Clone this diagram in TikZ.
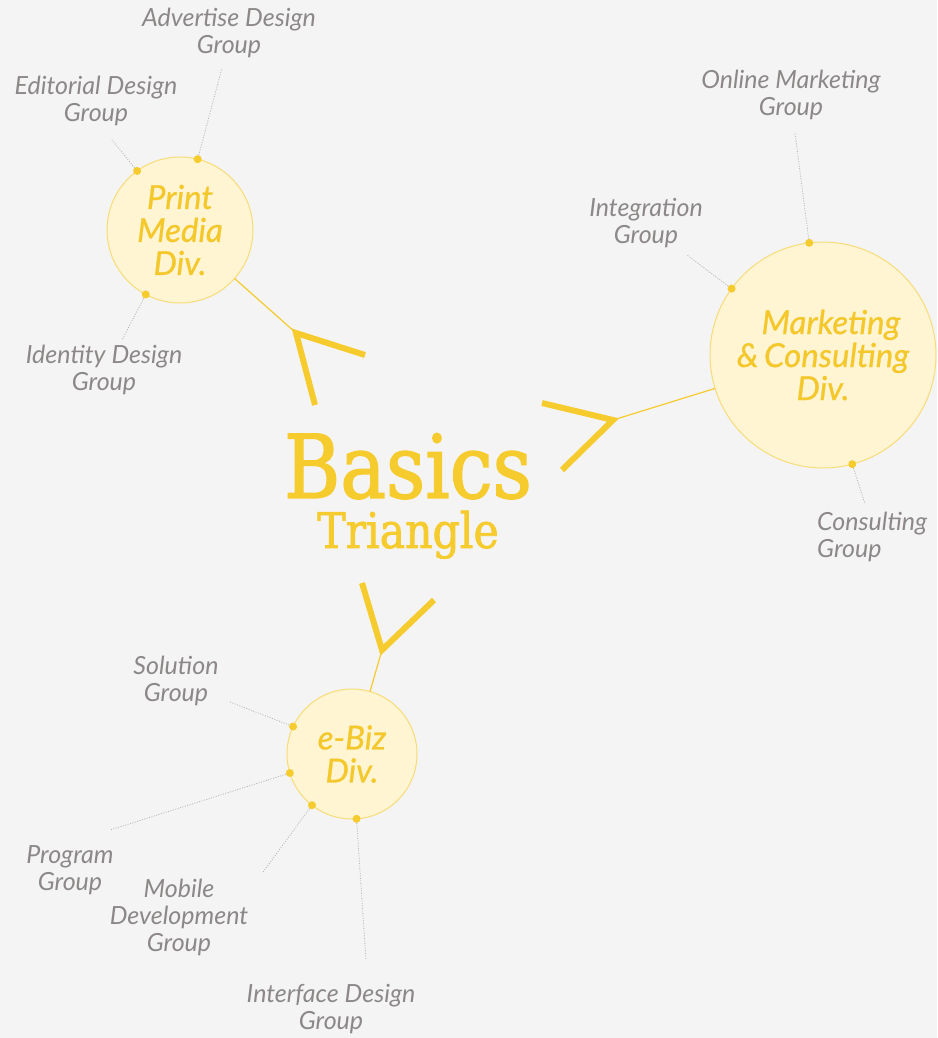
\documentclass[tikz,border=0pt]{standalone}
\usepackage{fontspec}
\setmainfont{DejaVu Serif}[FakeStretch=0.87, FakeBold=1.6]
\newfontfamily\grpfont{Lato}
\newfontfamily\divfont{Lato}[FakeBold=0.7]
\usetikzlibrary{positioning}
\definecolor{bg}{HTML}{F4F4F4}
\definecolor{gold}{HTML}{F6CB2E}
\definecolor{divtext}{HTML}{F4C72A}
\definecolor{pale}{HTML}{FFF5D2}
\definecolor{rim}{HTML}{F7DC79}
\definecolor{greytext}{HTML}{8C8888}
\definecolor{leader}{HTML}{B5B5B5}
\tikzset{
  div/.style={circle, draw=rim, fill=pale, line width=1pt, outer sep=0pt, inner sep=0pt, align=center, text=divtext, font=\divfont\itshape\fontsize{33}{33}\selectfont},
  grp/.style={align=center, text=greytext, inner sep=0pt, font=\grpfont\itshape\fontsize{25}{27}\selectfont},
  dot/.style={circle, fill=gold, minimum size=8pt, inner sep=0pt},
  link/.style={gold, line width=1.2pt},
  leaderline/.style={leader, line width=0.8pt, dash pattern=on 1pt off 1.5pt},
  chev/.style={gold, line width=6pt, line join=miter},
}

\begin{document}
\begin{tikzpicture}[x=1pt, y=-1pt]
    \fill[bg] (0,0) rectangle (937,1038);
    \useasboundingbox (0,0) rectangle (937,1038);

    % title
    \node[text=gold, inner sep=0pt, align=center, anchor=north, font=\fontsize{88}{50}\selectfont] (title) at (408,433)
      {Basics\\{\fontsize{49}{50}\selectfont Triangle}};

    % divisions
    \node[div, minimum size=146pt] (pm) at (180,230) {Print\\Media\\Div.};
    \node[div, minimum size=226pt] (mc) at (823,355) {\hspace*{16pt}Marketing\\\&\,Consulting\\Div.};
    \node[div, minimum size=130pt] (eb) at (352,754) {e-Biz\\Div.};

    % chevrons
    \coordinate (v1) at (296,333);
    \coordinate (v1a) at (365,355);
    \coordinate (v1b) at (315,405);
    \coordinate (v2) at (613,420);
    \coordinate (v2a) at (542,403);
    \coordinate (v2b) at (562,470);
    \coordinate (v3) at (382,650);
    \coordinate (v3a) at (362,583);
    \coordinate (v3b) at (434,600);
    \draw[chev] (v1a) -- (v1) -- (v1b);
    \draw[chev] (v2a) -- (v2) -- (v2b);
    \draw[chev] (v3a) -- (v3) -- (v3b);
    \draw[link] (pm) -- (v1);
    \draw[link] (mc) -- (v2);
    \draw[link] (eb) -- (v3);

    % print media groups
    \node[dot] (d1) at (pm.126) {};
    \node[dot] (d2) at (pm.76) {};
    \node[dot] (d3) at (pm.242) {};
    \coordinate (e1) at (112,140);
    \coordinate (e2) at (222,68);
    \coordinate (e3) at (122,340);
    \draw[leaderline] (d1) -- (e1);
    \draw[leaderline] (d2) -- (e2);
    \draw[leaderline] (d3) -- (e3);
    \node[grp] (g1) at (96,101) {Editorial Design\\Group};
    \node[grp] (g2) at (229,33) {Advertise Design\\Group};
    \node[grp] (g3) at (104,370) {Identity Design\\Group};

    % marketing groups
    \node[dot] (d4) at (mc.97) {};
    \node[dot] (d5) at (mc.144) {};
    \node[dot] (d6) at (mc.285) {};
    \coordinate (e4) at (795,133);
    \coordinate (e5) at (687,255);
    \coordinate (e6) at (865,504);
    \draw[leaderline] (d4) -- (e4);
    \draw[leaderline] (d5) -- (e5);
    \draw[leaderline] (d6) -- (e6);
    \node[grp] (g4) at (791,95) {Online Marketing\\Group};
    \node[grp] (g5) at (646,223) {Integration\\Group};
    \node[grp, align=left, anchor=west] (g6) at (817,537) {Consulting\\Group};

    % e-biz groups
    \node[dot] (d7) at (eb.155) {};
    \node[dot] (d8) at (eb.197) {};
    \node[dot] (d9) at (eb.232) {};
    \node[dot] (d10) at (eb.274) {};
    \coordinate (e7) at (230,702);
    \coordinate (e8) at (110,830);
    \coordinate (e9) at (263,872);
    \coordinate (e10) at (366,960);
    \draw[leaderline] (d7) -- (e7);
    \draw[leaderline] (d8) -- (e8);
    \draw[leaderline] (d9) -- (e9);
    \draw[leaderline] (d10) -- (e10);
    \node[grp] (g7) at (176,681) {Solution\\Group};
    \node[grp] (g8) at (70,870) {Program\\Group};
    \node[grp] (g9) at (179,917) {Mobile\\Development\\Group};
    \node[grp] (g10) at (331,1009) {Interface Design\\Group};
\end{tikzpicture}
\end{document}
